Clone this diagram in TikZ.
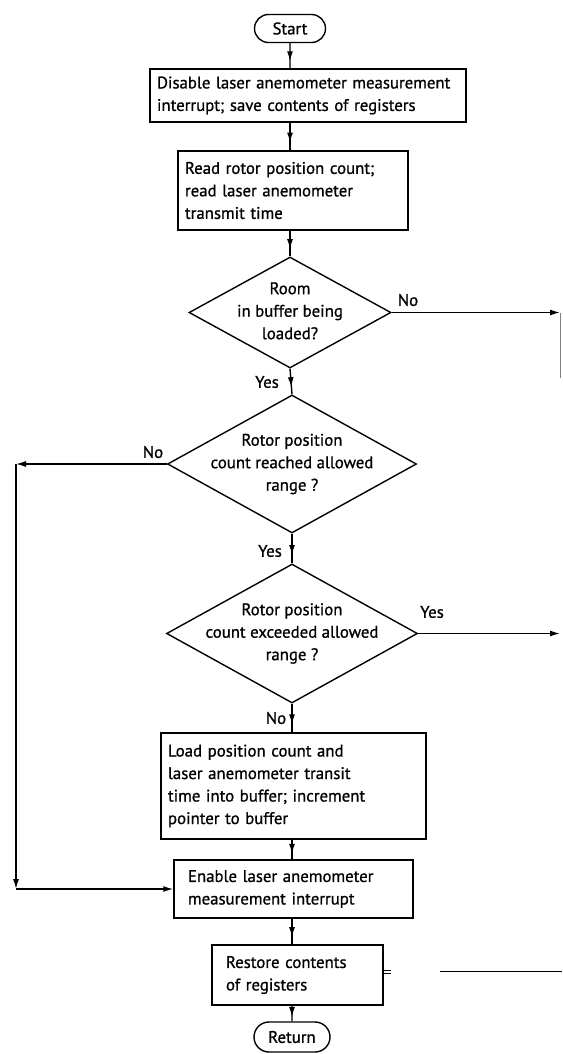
\documentclass[tikz,border=0pt]{standalone}
\usepackage{fontspec}
\setmainfont{PT Sans}[FakeBold=0.9]
\usetikzlibrary{shapes.geometric,shapes.misc,arrows.meta,decorations.markings}

\newcommand{\dtext}[1]{\makebox[0pt]{\smash{\raisebox{-4pt}{\begin{tabular}{@{}c@{}}#1\end{tabular}}}}}

\tikzset{
  every node/.style={font=\fontsize{16.8}{22.5}\selectfont},
  procbox/.style={draw, rectangle, align=left, inner xsep=7pt, inner ysep=0pt},
  decision/.style={draw, diamond, inner sep=0pt},
  terminal/.style={draw, rounded rectangle, inner sep=0pt, minimum height=28pt},
  flow/.style={postaction={decorate}, decoration={markings, mark=at position 0.72 with {\arrow{Latex[length=10pt,width=6pt]}}}},
  tip/.style={-{Latex[length=10pt,width=6pt]}},
  lbl/.style={inner sep=0pt}
}

\begin{document}
\begin{tikzpicture}[x=1pt, y=-1pt, line width=1.4pt]
            \useasboundingbox (0,0) rectangle (562,1054);

            \node[terminal, minimum width=71pt] (start) at (290,28.5) {Start};
            \node[procbox, text width=302pt, minimum height=53pt] (disable) at (308,95.5) {Disable laser anemometer measurement\\interrupt;\ save contents of registers};
            \node[procbox, text width=216pt, minimum height=79pt] (readcount) at (293,190.5) {Read rotor position count;\\read laser anemometer\\transmit time};
            \node[decision, minimum width=202pt, minimum height=111pt] (room) at (290,312.5) {\dtext{Room\\in buffer being\\loaded?}};
            \node[decision, minimum width=249pt, minimum height=138pt] (reached) at (292,464) {\dtext{Rotor position\\count reached allowed\\range ?}};
            \node[decision, minimum width=251pt, minimum height=139pt] (exceeded) at (292,633.5) {\dtext{Rotor position\\count exceeded allowed\\range ?}};
            \node[procbox, text width=251pt, minimum height=106pt] (loadcount) at (293.5,786) {Load position count and\\laser anemometer transit\\time into buffer;\ increment\\pointer to buffer};
            \node[procbox, inner xsep=14pt, text width=211pt, minimum height=58pt] (enable) at (293.5,889) {Enable laser anemometer\\measurement interrupt};
            \node[procbox, inner xsep=14pt, text width=143pt, minimum height=60pt] (restore) at (297.5,975) {Restore contents\\of registers};
            \node[terminal, minimum width=76pt, minimum height=30pt] (return) at (292,1037) {Return};

            \node[lbl] (noroom) at (408,300) {No};
            \node[lbl] (yesroom) at (267,382) {Yes};
            \node[lbl] (noreach) at (153,452) {No};
            \node[lbl] (yesreach) at (270,551) {Yes};
            \node[lbl] (yesexc) at (432,612) {Yes};
            \node[lbl] (noexc) at (276,718) {No};

            \coordinate (roomout) at (560,312.5);
            \coordinate (roomdown) at (560,378);
            \coordinate (loopup) at (16,464);
            \coordinate (loopdown) at (16,889);
            \coordinate (excout) at (560,633.5);
            \coordinate (restin) at (440,971);
            \coordinate (restedge) at (562,971);

            \draw[flow] (start) -- (start |- disable.north);
            \draw[flow] (start |- disable.south) -- (start |- readcount.north);
            \draw[flow] (start |- readcount.south) -- (room.north);
            \draw[flow] (room.south) -- (reached.north);
            \draw[flow] (reached.south) -- (exceeded.north);
            \draw[flow] (exceeded.south) -- (exceeded.south |- loadcount.north);
            \draw[flow] (exceeded.south |- loadcount.south) -- (exceeded.south |- enable.north);
            \draw[flow] (exceeded.south |- enable.south) -- (exceeded.south |- restore.north);
            \draw[flow] (exceeded.south |- restore.south) -- (return);

            \draw[tip] (room.east) -- (roomout);
            \draw[gray, line width=0.7pt] (roomout) -- (roomdown);
            \draw[tip] (reached.west) -- (loopup);
            \draw[tip] (loopup) -- (loopdown);
            \draw[tip] (loopdown) -- (enable.west);
            \draw[tip] (exceeded.east) -- (excout);
            \draw[line width=1pt] (restin) -- (restedge);
            \draw[line width=1pt] (restore.east) ++(0,-5) -- ++(7,0) ++(-7,3) -- ++(7,0);
        \end{tikzpicture}
\end{document}
